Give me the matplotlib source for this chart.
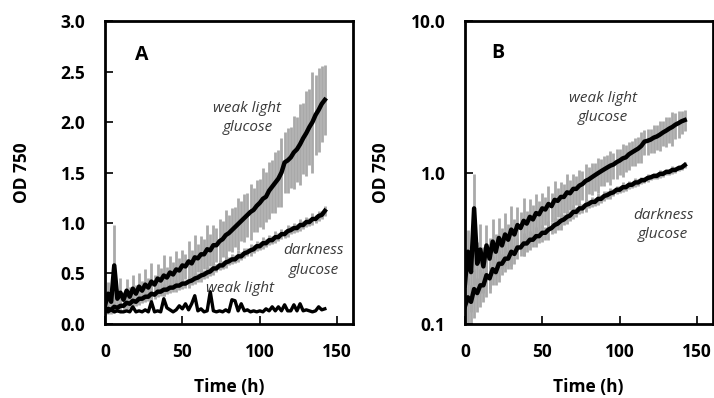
import numpy as np
import matplotlib
matplotlib.use("Agg")
import matplotlib.pyplot as plt
from matplotlib.ticker import FixedLocator, FixedFormatter, NullLocator

# time points (h)
time_h = np.arange(0, 144, 2)

# weak light + glucose
od_wlg = [0.18, 0.30, 0.22, 0.58, 0.25, 0.31, 0.24, 0.33, 0.27, 0.35,
          0.30, 0.37, 0.33, 0.39, 0.36, 0.42, 0.39, 0.45, 0.43, 0.48,
          0.46, 0.51, 0.49, 0.54, 0.53, 0.58, 0.57, 0.62, 0.60, 0.66,
          0.65, 0.69, 0.69, 0.74, 0.73, 0.78, 0.78, 0.82, 0.84, 0.88,
          0.90, 0.93, 0.96, 0.99, 1.02, 1.05, 1.08, 1.11, 1.13, 1.17,
          1.20, 1.24, 1.26, 1.32, 1.36, 1.40, 1.44, 1.50, 1.60, 1.62,
          1.65, 1.70, 1.73, 1.78, 1.84, 1.89, 1.95, 2.00, 2.07, 2.12,
          2.18, 2.22]
err_wlg = [0.08, 0.12, 0.10, 0.40, 0.10, 0.15, 0.08, 0.12, 0.10, 0.14,
           0.09, 0.13, 0.10, 0.15, 0.10, 0.18, 0.10, 0.14, 0.12, 0.20,
           0.10, 0.16, 0.12, 0.18, 0.12, 0.15, 0.12, 0.20, 0.13, 0.22,
           0.14, 0.18, 0.15, 0.24, 0.16, 0.20, 0.17, 0.22, 0.18, 0.25,
           0.18, 0.22, 0.20, 0.26, 0.20, 0.24, 0.22, 0.28, 0.22, 0.26,
           0.24, 0.30, 0.25, 0.28, 0.26, 0.30, 0.28, 0.34, 0.30, 0.32,
           0.30, 0.36, 0.32, 0.40, 0.35, 0.42, 0.38, 0.50, 0.40, 0.42,
           0.38, 0.35]

# darkness + glucose
od_dg = [0.13, 0.15, 0.14, 0.17, 0.16, 0.18, 0.18, 0.21, 0.20, 0.23,
         0.22, 0.25, 0.25, 0.27, 0.27, 0.30, 0.29, 0.32, 0.32, 0.34,
         0.34, 0.36, 0.36, 0.38, 0.38, 0.40, 0.40, 0.42, 0.43, 0.45,
         0.46, 0.48, 0.49, 0.51, 0.52, 0.55, 0.55, 0.58, 0.58, 0.61,
         0.62, 0.64, 0.64, 0.67, 0.67, 0.70, 0.71, 0.73, 0.74, 0.77,
         0.77, 0.80, 0.80, 0.83, 0.83, 0.86, 0.86, 0.89, 0.89, 0.92,
         0.93, 0.95, 0.95, 0.98, 0.98, 1.01, 1.01, 1.04, 1.04, 1.07,
         1.08, 1.12]
err_dg = [0.04, 0.05, 0.04, 0.06, 0.04, 0.05, 0.04, 0.06, 0.04, 0.05,
          0.04, 0.06, 0.04, 0.05, 0.04, 0.07, 0.04, 0.05, 0.04, 0.06,
          0.04, 0.05, 0.04, 0.06, 0.04, 0.05, 0.04, 0.06, 0.04, 0.05,
          0.04, 0.06, 0.04, 0.05, 0.04, 0.06, 0.04, 0.05, 0.04, 0.06,
          0.04, 0.05, 0.04, 0.06, 0.04, 0.05, 0.04, 0.06, 0.04, 0.05,
          0.04, 0.06, 0.04, 0.05, 0.04, 0.06, 0.04, 0.05, 0.04, 0.06,
          0.04, 0.05, 0.04, 0.06, 0.04, 0.05, 0.04, 0.06, 0.04, 0.05,
          0.04, 0.05]

# weak light, no glucose
od_wl = [0.13, 0.12, 0.14, 0.12, 0.13, 0.12, 0.12, 0.13, 0.12, 0.17,
         0.12, 0.13, 0.12, 0.14, 0.12, 0.22, 0.12, 0.13, 0.12, 0.25,
         0.16, 0.14, 0.12, 0.14, 0.18, 0.15, 0.20, 0.14, 0.20, 0.28,
         0.13, 0.15, 0.12, 0.13, 0.32, 0.13, 0.12, 0.13, 0.12, 0.14,
         0.12, 0.24, 0.23, 0.13, 0.20, 0.13, 0.14, 0.12, 0.13, 0.12,
         0.13, 0.12, 0.15, 0.13, 0.17, 0.13, 0.17, 0.13, 0.19, 0.13,
         0.13, 0.19, 0.13, 0.20, 0.13, 0.14, 0.13, 0.12, 0.13, 0.17,
         0.14, 0.15]

plt.rcParams['font.family'] = ['Open Sans', 'DejaVu Sans']
plt.rcParams['font.size'] = 12

GREY = '#a9a9a9'
TXT = '#3a3a3a'


def draw(ax, t, y, err=None, lw=3.2):
    y = np.asarray(y)
    if err is not None:
        err = np.asarray(err)
        ax.vlines(t, y - err, y + err, color=GREY, lw=2.0, zorder=1)
    ax.plot(t, y, color='black', lw=lw, zorder=3)


def style(ax):
    for s in ax.spines.values():
        s.set_linewidth(2)
    ax.tick_params(direction='in', length=6, width=1.2, pad=14,
                   labelsize=12.5)
    for lab in ax.get_xticklabels() + ax.get_yticklabels():
        lab.set_fontweight('bold')
    ax.set_xlim(0, 160)
    ax.set_xticks([0, 50, 100, 150])
    ax.set_xlabel("Time (h)", fontweight='bold', fontsize=12.5)
    ax.set_ylabel("OD 750", fontweight='bold', fontsize=12.5)
    ax.xaxis.set_label_coords(0.5, -0.18)
    ax.yaxis.set_label_coords(-0.30, 0.5)


fig = plt.figure(figsize=(7.14, 3.98), dpi=100)
ax_a = fig.add_axes([0.147, 0.186, 0.347, 0.761])
ax_b = fig.add_axes([0.651, 0.186, 0.347, 0.761])

# panel A, linear
draw(ax_a, time_h, od_wlg, err_wlg)
draw(ax_a, time_h, od_dg, err_dg)
draw(ax_a, time_h, od_wl, lw=2.4)
ax_a.set_ylim(0, 3.0)
ax_a.set_yticks([0, 0.5, 1.0, 1.5, 2.0, 2.5, 3.0])
ax_a.set_yticklabels(["0.0", "0.5", "1.0", "1.5", "2.0", "2.5", "3.0"])
style(ax_a)
ax_a.text(24, 2.66, "A", fontweight='bold', fontsize=14, ha='center', va='center')
ax_a.text(92, 2.04, "weak light\nglucose", style='italic', color=TXT,
          fontsize=11, ha='center', va='center', linespacing=1.4)
ax_a.text(135, 0.63, "darkness\nglucose", style='italic', color=TXT,
          fontsize=11, ha='center', va='center', linespacing=1.4)
ax_a.text(87, 0.35, "weak light", style='italic', color=TXT,
          fontsize=11, ha='center', va='center')

# panel B, log
draw(ax_b, time_h, od_wlg, err_wlg)
draw(ax_b, time_h, od_dg, err_dg)
ax_b.set_yscale('log')
ax_b.set_ylim(0.1, 10)
ax_b.yaxis.set_major_locator(FixedLocator([0.1, 1.0, 10.0]))
ax_b.yaxis.set_major_formatter(FixedFormatter(["0.1", "1.0", "10.0"]))
ax_b.yaxis.set_minor_locator(NullLocator())
style(ax_b)
ax_b.text(21, 6.2, "B", fontweight='bold', fontsize=14, ha='center', va='center')
ax_b.text(89, 2.67, "weak light\nglucose", style='italic', color=TXT,
          fontsize=11, ha='center', va='center', linespacing=1.4)
ax_b.text(128, 0.45, "darkness\nglucose", style='italic', color=TXT,
          fontsize=11, ha='center', va='center', linespacing=1.4)

fig.savefig("out.png", dpi=100)
